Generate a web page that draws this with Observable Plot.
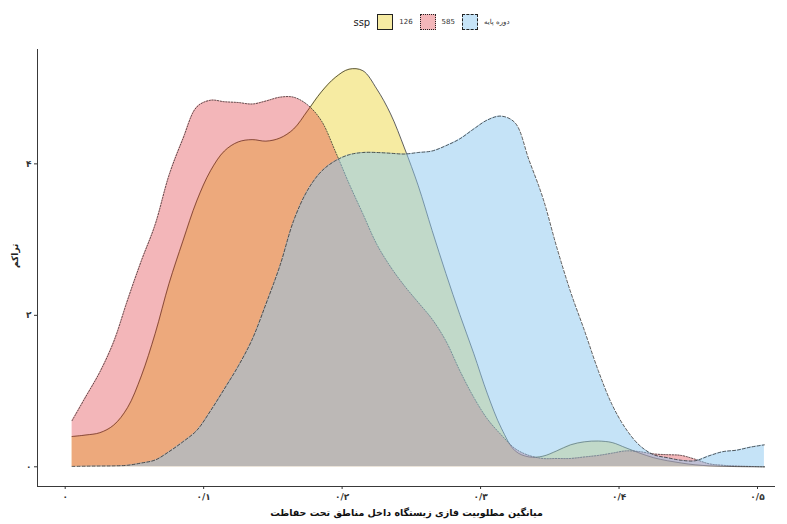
<!DOCTYPE html>
<html><head><meta charset="utf-8">
<script src="https://cdn.jsdelivr.net/npm/d3@7"></script>
<script src="https://cdn.jsdelivr.net/npm/@observablehq/plot@0.6"></script>
<style>
body{margin:0;background:#fff;font-family:"DejaVu Sans",sans-serif;}
#legend{height:40px;display:flex;align-items:center;justify-content:center;margin-left:95px;margin-right:12px;padding-top:4px;box-sizing:border-box;}
#legend .title{font-size:10px;color:#222;margin-right:7px;}
#legend .box{width:16px;height:16px;box-sizing:border-box;border:1px solid #222;}
#legend .lab{font-size:7px;color:#333;margin:0 7px 0 6px;}
</style></head><body>
<div id="legend"></div>
<div id="chart"></div>
<script>
// sampled x positions of the density curves
const xs = [0.005,0.015,0.025,0.035,0.045,0.055,0.065,0.075,0.085,0.095,
  0.105,0.115,0.125,0.135,0.145,0.155,0.165,0.175,0.185,0.195,
  0.205,0.215,0.225,0.235,0.245,0.255,0.265,0.275,0.285,0.295,
  0.305,0.315,0.325,0.335,0.345,0.355,0.365,0.375,0.385,0.395,
  0.405,0.415,0.425,0.435,0.445,0.455,0.465,0.475,0.485,0.495,0.505];
// ssp 126
const d126 = [0.40,0.42,0.45,0.55,0.78,1.20,1.76,2.42,2.98,3.51,
  3.91,4.17,4.29,4.32,4.30,4.34,4.46,4.70,4.95,5.14,
  5.25,5.23,4.99,4.66,4.21,3.71,3.12,2.55,2.01,1.50,
  0.96,0.51,0.21,0.13,0.14,0.21,0.29,0.33,0.34,0.32,
  0.25,0.18,0.12,0.08,0.05,0.026,0.013,0.007,0.003,0.001,0];
// ssp 585
const d585 = [0.61,0.93,1.25,1.65,2.20,2.72,3.20,3.85,4.33,4.75,
  4.84,4.82,4.81,4.79,4.83,4.88,4.88,4.78,4.57,4.17,
  3.74,3.34,2.94,2.64,2.39,2.17,1.95,1.66,1.27,0.92,
  0.63,0.42,0.24,0.15,0.11,0.11,0.11,0.13,0.15,0.18,
  0.21,0.20,0.17,0.16,0.15,0.10,0.04,0.02,0.01,0.005,0];
// base period
const dBase = [0.005,0.008,0.01,0.012,0.02,0.05,0.09,0.20,0.33,0.48,
  0.74,1.03,1.33,1.68,2.15,2.65,3.25,3.65,3.90,4.04,
  4.12,4.15,4.15,4.14,4.13,4.15,4.17,4.24,4.33,4.46,
  4.58,4.63,4.54,4.05,3.55,2.90,2.31,1.80,1.27,0.82,
  0.50,0.28,0.16,0.12,0.086,0.08,0.145,0.20,0.22,0.26,0.29];

const seriesKeys = ["126","585","دوره پایه"];
const seriesValues = [d126, d585, dBase];
const seriesFill = ["#EDD746","#DC2F37","#8CC8F0"];
const seriesOpacity = [0.5,0.35,0.5];
const seriesDash = [null,"1.2,1.6","3,2"];
const legendTitle = "ssp";

const xTicks = [0,0.1,0.2,0.3,0.4,0.5];
const xTickLabels = ["۰","۰/۱","۰/۲","۰/۳","۰/۴","۰/۵"];
const yTicks = [0,2,4];
const yTickLabels = ["۰","۲","۴"];
const xTitle = "میانگین مطلوبیت فازی زیستگاه داخل مناطق تحت حفاظت";
const yTitle = "تراکم";

const xDomain = [-0.02,0.513];
const yDomain = [-0.26,5.51];

const marks = [];
seriesKeys.forEach((k,i)=>{
  const rows = xs.map((x,j)=>({x, y: seriesValues[i][j], s:k}));
  marks.push(Plot.areaY(rows,{x:"x",y:"y",fill:seriesFill[i],fillOpacity:seriesOpacity[i],curve:"catmull-rom"}));
  marks.push(Plot.lineY(rows,{x:"x",y:"y",stroke:"#1a1a1a",strokeWidth:0.7,strokeDasharray:seriesDash[i]||undefined,curve:"catmull-rom"}));
});
marks.push(Plot.ruleX([xDomain[0]],{stroke:"#222",strokeWidth:0.9}));
marks.push(Plot.ruleY([yDomain[0]],{stroke:"#222",strokeWidth:0.9}));
marks.push(Plot.axisX({ticks:xTicks,tickFormat:d=>xTickLabels[xTicks.indexOf(d)],tickSize:3,tickPadding:4,fontSize:9,label:null,fontWeight:"bold"}));
marks.push(Plot.axisY({ticks:yTicks,tickFormat:d=>yTickLabels[yTicks.indexOf(d)],tickSize:3,tickPadding:3,fontSize:9,label:null,fontWeight:"bold"}));
marks.push(Plot.text([yTitle],{frameAnchor:"left",dx:-22,rotate:-90,fontSize:9,fontWeight:"bold",fill:"#222"}));
marks.push(Plot.text([xTitle],{frameAnchor:"bottom",dy:29,fontSize:9.5,fontWeight:"bold",fill:"#111"}));

const chart = Plot.plot({
  width:787,height:484,marginLeft:37,marginRight:12,marginTop:9,marginBottom:38,
  x:{domain:xDomain},y:{domain:yDomain},
  style:{fontFamily:"DejaVu Sans",fontSize:"9px",color:"#333",background:"#fff"},
  marks
});
document.getElementById("chart").appendChild(chart);

// legend
const lg = document.getElementById("legend");
const t = document.createElement("span"); t.className="title"; t.textContent=legendTitle; lg.appendChild(t);
seriesKeys.forEach((k,i)=>{
  const b=document.createElement("span"); b.className="box";
  b.style.background = d3.interpolateRgb("#fff",seriesFill[i])(seriesOpacity[i]);
  b.style.borderStyle = i===0?"solid":(i===1?"dotted":"dashed");
  lg.appendChild(b);
  const l=document.createElement("span"); l.className="lab"; l.textContent=k; lg.appendChild(l);
});
</script>
</body></html>
